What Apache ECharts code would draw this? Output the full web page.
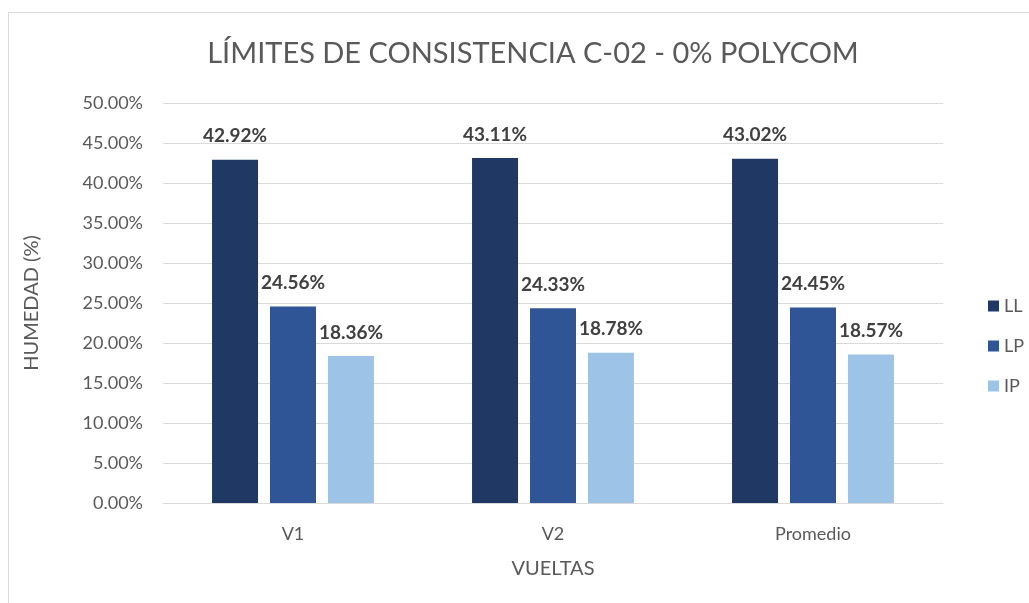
<!DOCTYPE html>
<html>
<head>
<meta charset="utf-8">
<script src="https://cdn.jsdelivr.net/npm/echarts@6/dist/echarts.min.js"></script>
<style>
  html, body { margin: 0; padding: 0; background: #fff; }
  #frame {
    position: absolute; left: 8px; top: 12px; width: 1040px; height: 620px;
    border: 1px solid #d9d9d9; box-sizing: border-box;
  }
  #chart { position: absolute; left: 0; top: 0; width: 1029px; height: 603px; }
</style>
</head>
<body>
<div id="frame"></div>
<div id="chart"></div>
<script>
  // data
  const categories = ['V1', 'V2', 'Promedio'];
  const seriesNames = ['LL', 'LP', 'IP'];
  const llValues = [42.92, 43.11, 43.02];
  const lpValues = [24.56, 24.33, 24.45];
  const ipValues = [18.36, 18.78, 18.57];
  const colors = ['#203864', '#2f5597', '#9dc3e6'];

  const font = 'Lato, "Open Sans", sans-serif';
  const chart = echarts.init(document.getElementById('chart'));

  const makeSeries = (name, data, color) => ({
    name: name,
    type: 'bar',
    data: data,
    barWidth: 46,
    barGap: '26%',
    itemStyle: { color: color },
    label: {
      show: true,
      position: 'top',
      distance: 14,
      formatter: p => p.value.toFixed(2) + '%',
      color: '#404040',
      fontWeight: 'bold',
      fontSize: 19,
      fontFamily: font
    }
  });

  const option = {
    animation: false,
    title: {
      text: 'LÍMITES DE CONSISTENCIA C-02 - 0% POLYCOM',
      left: 528,
      top: 34,
      textAlign: 'center',
      textStyle: { color: '#595959', fontSize: 29, fontWeight: 'normal', fontFamily: font }
    },
    legend: {
      orient: 'vertical',
      left: 983,
      top: 292,
      itemWidth: 11,
      itemHeight: 11,
      itemGap: 22,
      icon: 'rect',
      data: seriesNames,
      textStyle: { color: '#595959', fontSize: 18, fontFamily: font }
    },
    grid: { left: 163, right: 86, top: 103, bottom: 100 },
    xAxis: {
      type: 'category',
      data: categories,
      name: 'VUELTAS',
      nameLocation: 'middle',
      nameGap: 56,
      nameTextStyle: { color: '#595959', fontSize: 20, fontFamily: font },
      axisLine: { lineStyle: { color: '#d9d9d9' } },
      axisTick: { show: false },
      axisLabel: { color: '#595959', fontSize: 18, margin: 22, fontFamily: font }
    },
    yAxis: {
      type: 'value',
      min: 0,
      max: 50,
      interval: 5,
      name: 'HUMEDAD (%)',
      nameLocation: 'middle',
      nameGap: 121,
      nameTextStyle: { color: '#595959', fontSize: 20, fontFamily: font },
      splitLine: { lineStyle: { color: '#d9d9d9' } },
      axisLabel: {
        color: '#595959', fontSize: 18, margin: 20, fontFamily: font,
        formatter: v => v.toFixed(2) + '%'
      }
    },
    series: [
      makeSeries(seriesNames[0], llValues, colors[0]),
      makeSeries(seriesNames[1], lpValues, colors[1]),
      makeSeries(seriesNames[2], ipValues, colors[2])
    ]
  };

  chart.setOption(option);
</script>
</body>
</html>
